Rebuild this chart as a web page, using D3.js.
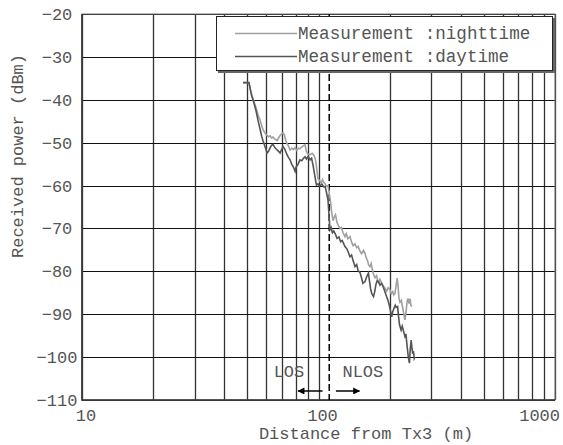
<!DOCTYPE html>
<html>
<head>
<meta charset="utf-8">
<script src="https://cdn.jsdelivr.net/npm/d3@7"></script>
<style>
  body { margin: 0; background: #fff; }
  text { font-family: "Liberation Mono", "DejaVu Sans Mono", monospace; fill: #555; }
</style>
</head>
<body>
<svg id="chart"></svg>
<script>
// distances (m) and received power (dBm)
var nightDist = [48, 50.8, 52, 53, 54.4, 55.5, 56.6, 57.5, 58.3, 59.5, 60.6, 61.5, 62.4, 63.3, 64.2, 65.5, 66.8, 68, 69, 70.8,
    71.8, 72.7, 73.6, 74.7, 75.8, 77, 78.5, 79.6, 81, 82.3, 83.5, 85, 86.5, 87.7, 88.8, 90, 92.1, 94, 95.5, 96.6,
    97.5, 98.5, 99.5, 101, 102.5, 104, 105, 106.5, 108, 109.7, 111, 112.5, 113.5, 115.2, 116.5, 118, 119.7, 121, 123.3, 125,
    127, 129.4, 131, 133, 135.9, 138, 140, 142.7, 145, 147, 149.8, 152, 155, 157.3, 159, 161, 163, 165.1, 167, 169,
    171, 173.4, 176, 178, 180, 182, 185, 188, 191.1, 194, 197, 200.6, 203, 206, 208, 210.6, 213, 215, 217, 219,
    221.1, 224, 227.7, 230, 232, 234.4, 237, 239, 241.4, 244, 246, 248.5];
var nightPower = [-36, -36, -38.5, -40, -41.8, -43.5, -44.7, -46, -47, -47.8, -48.3, -48.6, -48.4, -48.9, -48.7, -49.2, -49.5, -48.8, -48.2, -47.7,
    -48.3, -49.5, -50.2, -50.8, -51.7, -51.3, -51.6, -51.1, -51.8, -51.3, -51.4, -51, -50.7, -50.5, -52, -52.6, -52.8, -52.5, -52.9, -53.5,
    -54.5, -56.5, -58.4, -58.8, -59.4, -58.6, -59.2, -59.5, -60.2, -60, -61.7, -64, -66, -68.2, -67.4, -66.8, -68.6, -69.2, -70, -69.8,
    -71, -71.9, -71.2, -72.4, -71.9, -73.2, -74, -73.6, -74.5, -74.2, -75.3, -75.9, -75.1, -75.8, -76.8, -77.4, -78.5, -78.9, -78.2, -79.6,
    -80.8, -81.5, -81, -82.1, -82.6, -81.9, -82.8, -83.4, -83.9, -84.6, -83.8, -84.3, -85.2, -84.7, -85.5, -85.1, -83.2, -81.6, -83.5, -86.4,
    -87.2, -86.8, -88.9, -90.2, -91.3, -89.5, -87, -86.3, -87.5, -86.4, -88, -88.2];

var dayDist = [48, 50.8, 52, 53, 54.4, 55.5, 56.6, 57.5, 58.3, 59.5, 60.6, 61.5, 62.4, 63.3, 64.2, 65.5, 66.8, 68, 68.8, 69.8,
    70.8, 72, 73.6, 74.7, 75.8, 77, 78.5, 79.6, 80.5, 82, 83.5, 85, 86.5, 87.7, 89, 90.5, 92.1, 93.5, 95, 96.6,
    98, 99.5, 101, 103.5, 105, 106.5, 108, 109.7, 110.5, 111.8, 113, 114.5, 116, 118, 119.7, 122, 124, 126, 129.4, 132,
    135.9, 138, 140, 142.7, 145, 147, 149.8, 152, 154, 157.3, 160, 162.6, 164, 166, 168, 170.9, 173, 175, 177, 179,
    182, 185, 187.6, 190, 193, 196.5, 199, 202, 204, 206, 208, 211, 213, 216, 218, 220, 223.5, 226, 229, 232,
    234.4, 236, 238, 240, 242.4, 244, 246.5, 248, 250, 252, 254, 255.9];
var dayPower = [-36, -36, -38.8, -40.2, -42.5, -44.8, -46.8, -48.5, -49.6, -51, -52.4, -52, -51.2, -50.6, -50.4, -51.2, -51.7, -52.1, -52.4, -51.6,
    -50.9, -51.5, -52.8, -53.5, -54, -55, -55.8, -56.7, -55.6, -55, -54, -54.2, -53.6, -53.3, -53.8, -53.2, -54, -53.6, -55.5, -57.9,
    -59.9, -59.6, -60.1, -59.7, -60.3, -60.2, -61.5, -63.4, -66, -70.3, -69.8, -71, -70.6, -71.4, -72.3, -72, -73.1, -72.8, -74.2, -74.8,
    -76.6, -76.2, -77.5, -78.9, -78.4, -79.8, -80.3, -81.5, -82.8, -82.4, -81.2, -80.4, -82, -84, -85.2, -85.9, -84.6, -83, -82.2, -82.4,
    -83.2, -82.8, -83.6, -84.4, -85.5, -86.7, -87.8, -89.5, -90.6, -89.4, -88.8, -87.9, -88.4, -88.2, -90.5, -92.4, -93.7, -92.8, -94, -95.2,
    -94.6, -96.5, -98.4, -100.2, -101.4, -98.5, -96, -97.5, -99.2, -98.6, -100.3, -99.9];

var yTicks = [-110, -100, -90, -80, -70, -60, -50, -40, -30, -20];
var xTickLabels = [10, 100, 1000];
var boundary = 111; // LOS / NLOS border (m)
var seriesNames = ["Measurement :nighttime", "Measurement :daytime"];
var seriesColors = ["#a0a0a0", "#555555"];

var width = 563;
var height = 445;
var pLeft = 82, pRight = 555, pTop = 14, pBottom = 400;

var svg = d3.select("#chart")
    .attr("width", width)
    .attr("height", height);

var x = d3.scaleLog().domain([10, 1000]).range([pLeft, pRight]);
var y = d3.scaleLinear().domain([-110, -20]).range([pBottom, pTop]);

// grid
svg.append("g").selectAll("line")
    .data(x.ticks())
    .enter().append("line")
    .attr("x1", function(d) { return Math.round(x(d)) + 0.5; })
    .attr("x2", function(d) { return Math.round(x(d)) + 0.5; })
    .attr("y1", pTop).attr("y2", pBottom)
    .attr("stroke", "#333").attr("stroke-width", 1.3);

svg.append("g").selectAll("line")
    .data(yTicks)
    .enter().append("line")
    .attr("x1", pLeft).attr("x2", pRight)
    .attr("y1", function(d) { return Math.round(y(d)) + 0.5; })
    .attr("y2", function(d) { return Math.round(y(d)) + 0.5; })
    .attr("stroke", "#111").attr("stroke-width", 1.1);

// frame
svg.append("rect")
    .attr("x", pLeft).attr("y", pTop)
    .attr("width", pRight - pLeft).attr("height", pBottom - pTop)
    .attr("fill", "none").attr("stroke", "#777").attr("stroke-width", 1);
svg.append("path")
    .attr("d", "M" + pLeft + "," + pTop + "V" + pBottom + "H" + pRight)
    .attr("fill", "none").attr("stroke", "#333").attr("stroke-width", 1.6);

// LOS / NLOS boundary
svg.append("line")
    .attr("x1", x(boundary)).attr("x2", x(boundary))
    .attr("y1", pTop).attr("y2", pBottom)
    .attr("stroke", "#000").attr("stroke-width", 1.5)
    .attr("stroke-dasharray", "7,3");

// curves
var line = d3.line()
    .x(function(d) { return x(d[0]); })
    .y(function(d) { return y(d[1]); });

var nightData = d3.zip(nightDist, nightPower);
var dayData = d3.zip(dayDist, dayPower);

svg.append("path").datum(nightData)
    .attr("d", line).attr("fill", "none")
    .attr("stroke", seriesColors[0]).attr("stroke-width", 1.6);
svg.append("path").datum(dayData)
    .attr("d", line).attr("fill", "none")
    .attr("stroke", seriesColors[1]).attr("stroke-width", 1.6);

// arrows
var defs = svg.append("defs");
defs.append("marker")
    .attr("id", "head")
    .attr("viewBox", "0 0 10 10")
    .attr("refX", 9).attr("refY", 5)
    .attr("markerWidth", 9).attr("markerHeight", 7)
    .attr("markerUnits", "userSpaceOnUse")
    .attr("orient", "auto")
    .append("path").attr("d", "M0,0L10,5L0,10Z").attr("fill", "#000");

svg.append("line")
    .attr("x1", x(104)).attr("x2", x(82))
    .attr("y1", y(-107.9)).attr("y2", y(-107.9))
    .attr("stroke", "#000").attr("stroke-width", 1.5)
    .attr("marker-end", "url(#head)");
svg.append("line")
    .attr("x1", x(118.5)).attr("x2", x(149))
    .attr("y1", y(-107.9)).attr("y2", y(-107.9))
    .attr("stroke", "#000").attr("stroke-width", 1.5)
    .attr("marker-end", "url(#head)");

svg.append("text")
    .attr("x", x(75)).attr("y", y(-104.6))
    .attr("text-anchor", "middle").style("font-size", "17px")
    .text("LOS");
svg.append("text")
    .attr("x", x(154)).attr("y", y(-104.6))
    .attr("text-anchor", "middle").style("font-size", "17px")
    .text("NLOS");

// tick labels
svg.append("g").selectAll("text")
    .data(yTicks)
    .enter().append("text")
    .attr("x", 57)
    .attr("y", function(d) { return y(d) + 6; })
    .attr("text-anchor", "middle")
    .style("font-size", "17px")
    .text(function(d) { return "\u2212" + Math.abs(d); });

svg.append("g").selectAll("text")
    .data(xTickLabels)
    .enter().append("text")
    .attr("x", function(d, i) { return i === xTickLabels.length - 1 ? width - 3 : x(d) + 4; })
    .attr("y", 421)
    .attr("text-anchor", function(d, i) { return i === xTickLabels.length - 1 ? "end" : "middle"; })
    .style("font-size", "17px")
    .text(function(d) { return d; });

// axis titles
svg.append("text")
    .attr("x", 366).attr("y", 439)
    .attr("text-anchor", "middle")
    .style("font-size", "17px")
    .text("Distance from Tx3 (m)");

svg.append("text")
    .attr("transform", "translate(23,156) rotate(-90)")
    .attr("text-anchor", "middle")
    .style("font-size", "17px")
    .text("Received power (dBm)");

// legend
var lg = svg.append("g");
lg.append("rect")
    .attr("x", 218).attr("y", 18).attr("width", 337).attr("height", 55)
    .attr("fill", "#666");
lg.append("rect")
    .attr("x", 216.5).attr("y", 16.5).attr("width", 336).attr("height", 54)
    .attr("fill", "#fff").attr("stroke", "#222").attr("stroke-width", 1);

lg.selectAll("line")
    .data(seriesNames)
    .enter().append("line")
    .attr("x1", 235).attr("x2", 297)
    .attr("y1", function(d, i) { return 33.5 + i * 23; })
    .attr("y2", function(d, i) { return 33.5 + i * 23; })
    .attr("stroke", function(d, i) { return seriesColors[i]; })
    .attr("stroke-width", 1.5);

lg.selectAll("text")
    .data(seriesNames)
    .enter().append("text")
    .attr("x", 298)
    .attr("y", function(d, i) { return 38.5 + i * 23; })
    .style("font-size", "17.6px")
    .text(function(d) { return d; });
</script>
</body>
</html>
